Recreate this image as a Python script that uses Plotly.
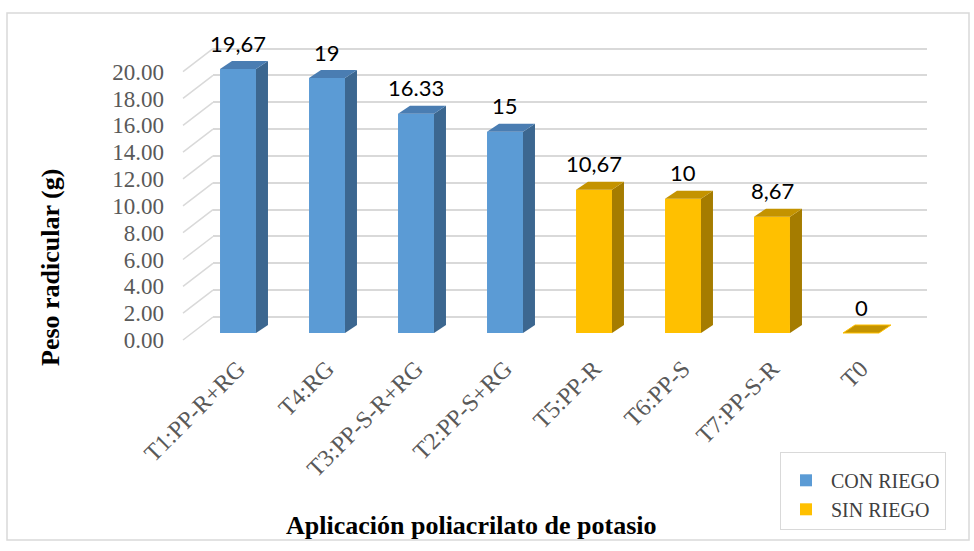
import plotly.graph_objects as go

# ---------------- data ----------------
categories = ["T1:PP-R+RG", "T4:RG", "T3:PP-S-R+RG", "T2:PP-S+RG",
              "T5:PP-R", "T6:PP-S", "T7:PP-S-R", "T0"]
values = [19.67, 19, 16.33, 15, 10.67, 10, 8.67, 0]
value_labels = ["19,67", "19", "16.33", "15", "10,67", "10", "8,67", "0"]
groups = ["CON RIEGO"] * 4 + ["SIN RIEGO"] * 4
y_ticks = [0, 2, 4, 6, 8, 10, 12, 14, 16, 18, 20]
y_tick_text = ["%.2f" % t for t in y_ticks]

# ---------------- style ----------------
SERIF = "Liberation Serif, Times New Roman, Times, serif"
W, H = 974, 551
L, R, T, B = 213, 47, 40, 206
PW, PH = W - L - R, H - T - B
PX_PER_UNIT = 13.42          # pixels per value unit
PX_PER_CAT = 89.0            # pixels per category step
BAR_W = 0.404
DX = 12 / PX_PER_CAT         # bar depth (category units)
DY = 8 / PX_PER_UNIT         # bar depth (value units)
FRONT0_PX = 333              # pixel row of value 0 on bar fronts
WALL0_PX = 317               # pixel row of value 0 on back wall
PLANE0_PX = 340              # pixel row of value 0 on front plane (tick labels)

colors = {
    "CON RIEGO": {"front": "#5B9BD5", "top": "#4A7DB2", "side": "#3C6790"},
    "SIN RIEGO": {"front": "#FFC000", "top": "#C49300", "side": "#A57C00"},
}

def px_to_paper_x(px):
    return (px - L) / PW

def px_to_paper_y(py):
    return (H - B - py) / PH

front_range = [(FRONT0_PX - (H - B)) / PX_PER_UNIT, (FRONT0_PX - T) / PX_PER_UNIT]
wall_range = [(WALL0_PX - (H - B)) / PX_PER_UNIT, (WALL0_PX - T) / PX_PER_UNIT]
x0 = -(238 - L) / PX_PER_CAT
x_range = [x0, x0 + PW / PX_PER_CAT]
plane_shift = (PLANE0_PX - FRONT0_PX) / PX_PER_UNIT
plane_to_wall = (PLANE0_PX - WALL0_PX) / PX_PER_UNIT

fig = go.Figure()

fig.add_trace(go.Scatter(x=[0], y=[0], mode="markers", marker=dict(opacity=0),
                         xaxis="x", yaxis="y", showlegend=False, hoverinfo="skip"))

xs = list(range(len(categories)))

for i, (v, g) in enumerate(zip(values, groups)):
    c = colors[g]
    xr = i + BAR_W / 2
    xl = i - BAR_W / 2
    fig.add_trace(go.Scatter(
        x=[xr, xr + DX, xr + DX, xr, xr],
        y=[0, DY, v + DY, v, 0],
        fill="toself", fillcolor=c["side"], mode="lines",
        line=dict(width=0, color=c["side"]),
        xaxis="x", yaxis="y2", showlegend=False, hoverinfo="skip"))
    fig.add_trace(go.Scatter(
        x=[xl, xr, xr + DX, xl + DX, xl],
        y=[v, v, v + DY, v + DY, v],
        fill="toself", fillcolor=c["top"], mode="lines",
        line=dict(width=1 if v == 0 else 0, color=c["front"]),
        xaxis="x", yaxis="y2", showlegend=False, hoverinfo="skip"))

for g in ["CON RIEGO", "SIN RIEGO"]:
    idx = [i for i, gg in enumerate(groups) if gg == g]
    fig.add_trace(go.Bar(
        x=[xs[i] for i in idx], y=[values[i] for i in idx],
        width=BAR_W, name=g,
        marker=dict(color=colors[g]["front"], line=dict(width=0)),
        xaxis="x", yaxis="y2", hoverinfo="skip"))

annotations = []
for i, (v, lab) in enumerate(zip(values, value_labels)):
    annotations.append(dict(x=i, y=v + DY, xref="x", yref="y2", text=lab,
                            showarrow=False, yanchor="middle", yshift=18,
                            font=dict(family="Lato", size=22, color="#000000")))
annotations += [
    dict(text="<b>Peso radicular (g)</b>", xref="paper", yref="paper",
         x=px_to_paper_x(50), y=px_to_paper_y(268), textangle=-90,
         showarrow=False, xanchor="center", yanchor="middle",
         font=dict(family=SERIF, size=26, color="#000000")),
    dict(text="<b>Aplicación poliacrilato de potasio</b>", xref="paper",
         yref="paper", x=px_to_paper_x(471), y=px_to_paper_y(525),
         showarrow=False, xanchor="center", yanchor="middle",
         font=dict(family=SERIF, size=26, color="#000000")),
]

shapes = []
for t in y_ticks:
    shapes.append(dict(type="line", xref="paper", yref="y",
                       x0=px_to_paper_x(183), y0=t - plane_to_wall,
                       x1=0, y1=t, line=dict(color="#d9d9d9", width=1.5),
                       layer="below"))
shapes.append(dict(type="rect", xref="paper", yref="paper",
                   x0=px_to_paper_x(7), y0=px_to_paper_y(540),
                   x1=px_to_paper_x(969), y1=px_to_paper_y(13),
                   line=dict(color="#d9d9d9", width=1.5), layer="below"))

fig.update_layout(
    width=W, height=H,
    margin=dict(l=L, r=R, t=T, b=B, autoexpand=False),
    paper_bgcolor="white", plot_bgcolor="white",
    barmode="overlay",
    shapes=shapes,
    annotations=annotations,
    xaxis=dict(range=x_range, tickmode="array", tickvals=xs, ticktext=categories,
               tickangle=-45, showgrid=False, zeroline=False, showline=False,
               ticks="", ticklabelstandoff=4, automargin=False,
               tickfont=dict(family=SERIF, size=24, color="#595959")),
    yaxis=dict(range=wall_range, tickmode="array", tickvals=y_ticks,
               showticklabels=False, showgrid=True, gridcolor="#d9d9d9",
               gridwidth=1.5, zeroline=False, showline=False, ticks="",
               automargin=False),
    yaxis2=dict(range=front_range, overlaying="y", side="left",
                tickmode="array", tickvals=[t - plane_shift for t in y_ticks],
                ticktext=y_tick_text, showgrid=False, zeroline=False,
                showline=False, ticks="", ticklabelstandoff=48, automargin=False,
                tickfont=dict(family=SERIF, size=23, color="#595959")),
    legend=dict(xref="container", yref="container",
                x=780 / W, y=1 - 452 / H, xanchor="left",
                yanchor="top", bgcolor="white", bordercolor="#d9d9d9",
                borderwidth=1, traceorder="normal", itemwidth=40,
                title=dict(text=" ", font=dict(size=6)),
                font=dict(family=SERIF, size=20, color="#404040")),
)

fig.write_html("out.html", config={"displayModeBar": False},
               post_script="document.body.style.margin='0';document.body.style.overflow='hidden';")
